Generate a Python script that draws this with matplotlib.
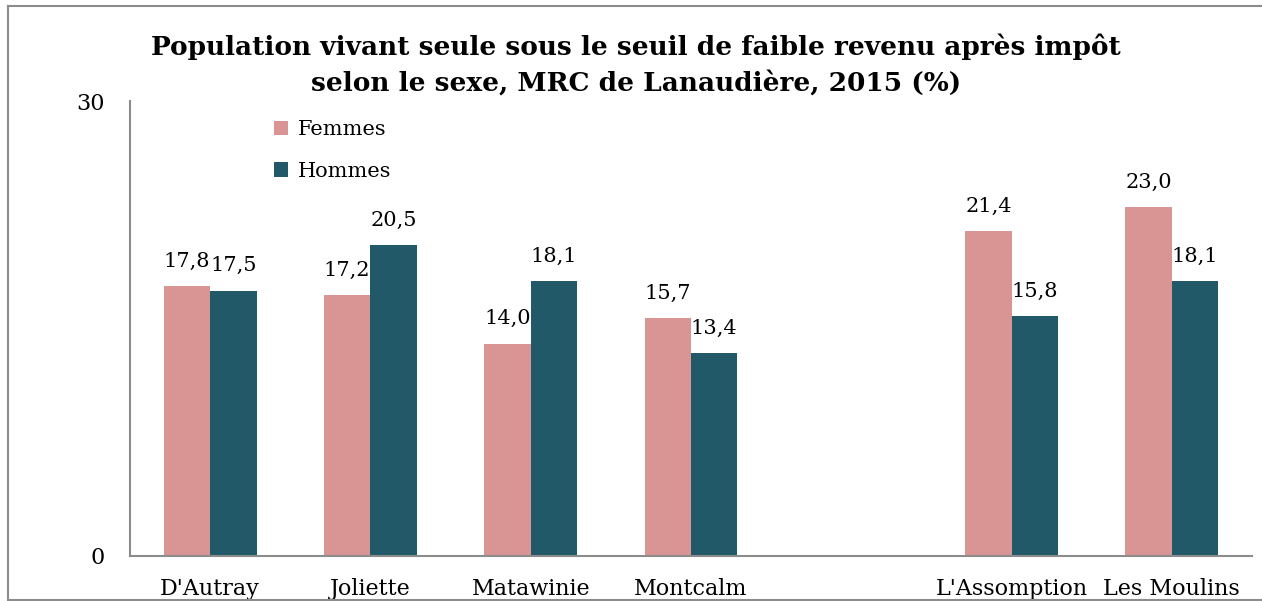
import numpy as np
import matplotlib.pyplot as plt
from matplotlib.lines import Line2D

# Données (MRC de Lanaudière, 2015, %)
mrc = ["D'Autray", "Joliette", "Matawinie", "Montcalm", "", "L'Assomption", "Les Moulins"]
femmes = [17.8, 17.2, 14.0, 15.7, np.nan, 21.4, 23.0]
hommes = [17.5, 20.5, 18.1, 13.4, np.nan, 15.8, 18.1]

couleur_femmes = "#d99594"
couleur_hommes = "#215968"

plt.rcParams['font.family'] = ['DejaVu Serif']

fig = plt.figure(figsize=(12.62, 6.01), dpi=100)
ax = fig.add_axes([130 / 1262, 45 / 601, 1122 / 1262, 455 / 601])

x = np.arange(len(mrc))
w = 0.29
b1 = ax.bar(x - w / 2, femmes, w, color=couleur_femmes, label="Femmes")
b2 = ax.bar(x + w / 2, hommes, w, color=couleur_hommes, label="Hommes")

# étiquettes de valeurs
for barres, vals in [(b1, femmes), (b2, hommes)]:
    for rect, v in zip(barres, vals):
        if np.isnan(v):
            continue
        ax.annotate(f"{v:.1f}".replace(".", ","),
                    (rect.get_x() + rect.get_width() / 2, v),
                    xytext=(0, 11), textcoords="offset points",
                    ha="center", va="bottom", fontsize=15)

ax.set_xlim(-0.5, 6.5)
ax.set_ylim(0, 30)
ax.set_yticks([0, 30])
ax.set_xticks(x)
ax.set_xticklabels(mrc)
ax.tick_params(axis="both", length=0, labelsize=16)
ax.tick_params(axis="y", pad=18)
ax.tick_params(axis="x", pad=16)

for s in ["top", "right"]:
    ax.spines[s].set_visible(False)
for s in ["left", "bottom"]:
    ax.spines[s].set_color("#8c8c8c")
    ax.spines[s].set_linewidth(1.5)

ax.legend(loc="upper left", bbox_to_anchor=(0.115, 0.99), frameon=False,
          fontsize=15, handlelength=0.7, handleheight=0.7,
          handletextpad=0.45, labelspacing=1.1, borderaxespad=0.3)

fig.text(0.504, 0.945,
         "Population vivant seule sous le seuil de faible revenu après impôt\n"
         "selon le sexe, MRC de Lanaudière, 2015 (%)",
         ha="center", va="top", fontsize=19, fontweight="bold", linespacing=1.5)

# cadre du graphique
cadre = dict(color="#8c8c8c", linewidth=1.5, transform=fig.transFigure)
fig.lines.append(Line2D([8 / 1262, 8 / 1262], [1 - 6 / 601, 1 - 600 / 601], **cadre))
fig.lines.append(Line2D([8 / 1262, 1], [1 - 6 / 601, 1 - 6 / 601], **cadre))
fig.lines.append(Line2D([8 / 1262, 1], [1 - 600 / 601, 1 - 600 / 601], **cadre))

plt.savefig("out.png", dpi=100)
